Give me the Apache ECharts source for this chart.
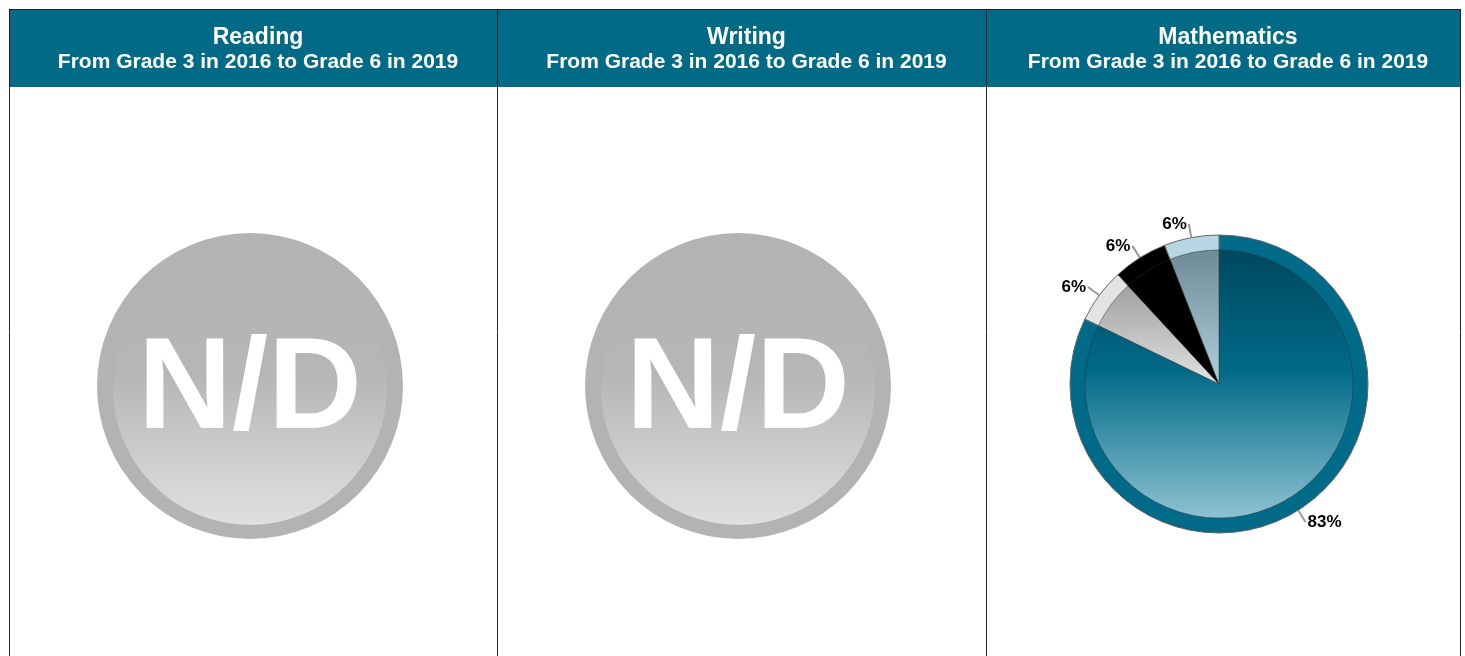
<!DOCTYPE html>
<html>
<head>
<meta charset="utf-8">
<script src="https://cdn.jsdelivr.net/npm/echarts@6/dist/echarts.min.js"></script>
<style>
  html, body { margin: 0; padding: 0; background: #fff; }
  #chart { width: 1465px; height: 656px; }
</style>
</head>
<body>
<div id="chart"></div>
<script>
// panel titles
var subjects = ['Reading', 'Writing', 'Mathematics']
var period = 'From Grade 3 in 2016 to Grade 6 in 2019'
var notAvailable = 'N/D'

// mathematics breakdown (only subject with data)
var mathNames = ['Group 1', 'Group 2', 'Group 3', 'Group 4']
var mathValues = [83, 6, 6, 6]
var ringColors = ['#006a89', '#e3e3e3', '#000000', '#b6d7e3']

// layout
var panelX = [9, 497, 986, 1460]
var headTop = 9, headBottom = 87
var ndCenters = [[250, 386], [738, 386]]
var pieCenter = [1219, 384]

function vgrad(top, bottom, mid) {
    var stops = [{ offset: 0, color: top }]
    if (mid) stops.push({ offset: 0.45, color: mid })
    stops.push({ offset: 1, color: bottom })
    return new echarts.graphic.LinearGradient(0, 0, 0, 1, stops)
}

var innerFills = [
    vgrad('#00485e', '#8ec2d2', '#006a88'),
    vgrad('#a0a0a0', '#e2e2e2'),
    '#000000',
    vgrad('#6d8a96', '#b0d0db')
]

var chart = echarts.init(document.getElementById('chart'))

var titles = subjects.map(function (s, i) {
    var cx = (panelX[i] + panelX[i + 1]) / 2
    return {
        text: s,
        subtext: period,
        left: cx,
        top: 21,
        textAlign: 'center',
        itemGap: 3,
        textStyle: { color: '#fff', fontFamily: 'Liberation Sans', fontWeight: 'bold', fontSize: 23 },
        subtextStyle: { color: '#fff', fontFamily: 'Liberation Sans', fontWeight: 'bold', fontSize: 21 }
    }
})

var graphics = [
    { type: 'rect', shape: { x: panelX[0], y: headTop, width: panelX[3] - panelX[0], height: headBottom - headTop },
      style: { fill: '#006a87' }, z: -1 },
    { type: 'line', shape: { x1: panelX[0] + 0.5, y1: headTop, x2: panelX[0] + 0.5, y2: 656 }, style: { stroke: '#222', lineWidth: 1 } },
    { type: 'line', shape: { x1: panelX[3] + 0.5, y1: headTop, x2: panelX[3] + 0.5, y2: 656 }, style: { stroke: '#222', lineWidth: 1 } },
    { type: 'line', shape: { x1: panelX[0], y1: headTop + 0.5, x2: panelX[3], y2: headTop + 0.5 }, style: { stroke: '#222', lineWidth: 1 } },
    { type: 'line', shape: { x1: panelX[1] + 0.5, y1: headTop, x2: panelX[1] + 0.5, y2: 656 }, style: { stroke: '#222', lineWidth: 1 } },
    { type: 'line', shape: { x1: panelX[2] + 0.5, y1: headTop, x2: panelX[2] + 0.5, y2: 656 }, style: { stroke: '#222', lineWidth: 1 } }
]

ndCenters.forEach(function (c) {
    graphics.push({ type: 'circle', shape: { cx: c[0], cy: c[1], r: 153 }, style: { fill: '#b3b3b3' } })
    graphics.push({ type: 'circle', shape: { cx: c[0], cy: c[1] + 2, r: 137 },
        style: { fill: vgrad('#b3b3b3', '#e0e0e0', '#b6b6b6') } })
    graphics.push({ type: 'text', x: c[0], y: c[1] + 6,
        style: { text: notAvailable, fill: '#fff', font: 'bold 130px "Liberation Sans"',
                 align: 'center', verticalAlign: 'middle' } })
})

chart.setOption({
    animation: false,
    title: titles,
    graphic: graphics,
    series: [
        {
            type: 'pie',
            center: pieCenter,
            radius: [0, 149],
            startAngle: 90,
            clockwise: true,
            silent: true,
            itemStyle: { borderColor: '#666', borderWidth: 1 },
            label: {
                formatter: '{c}%',
                color: '#000',
                fontFamily: 'Liberation Sans',
                fontWeight: 'bold',
                fontSize: 17,
                distanceToLabelLine: 2
            },
            labelLine: { length: 14, length2: 0, smooth: false, lineStyle: { color: '#999', width: 2 } },
            data: mathValues.map(function (v, i) {
                return { name: mathNames[i], value: v, itemStyle: { color: ringColors[i] } }
            })
        },
        {
            type: 'pie',
            center: pieCenter,
            radius: [0, 134],
            startAngle: 90,
            clockwise: true,
            silent: true,
            label: { show: false },
            labelLine: { show: false },
            itemStyle: { borderColor: '#333', borderWidth: 0.5 },
            data: mathValues.map(function (v, i) {
                return { name: mathNames[i], value: v, itemStyle: { color: innerFills[i] } }
            })
        }
    ]
})
</script>
</body>
</html>
